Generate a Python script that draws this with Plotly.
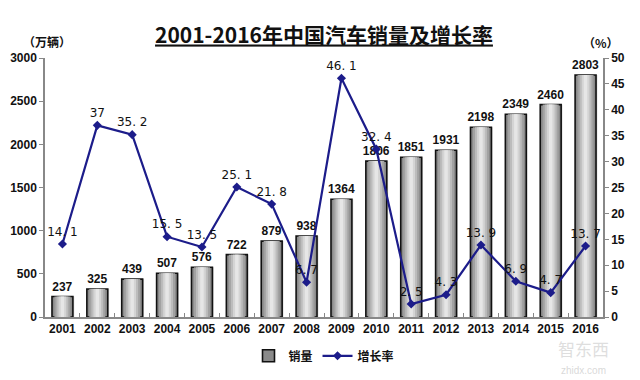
import plotly.graph_objects as go

years = ["2001", "2002", "2003", "2004", "2005", "2006", "2007", "2008",
         "2009", "2010", "2011", "2012", "2013", "2014", "2015", "2016"]
sales = [237, 325, 439, 507, 576, 722, 879, 938, 1364, 1806, 1851, 1931, 2198, 2349, 2460, 2803]
growth = [14.1, 37, 35.2, 15.5, 13.5, 25.1, 21.8, 6.7, 46.1, 32.4, 2.5, 4.3, 13.9, 6.9, 4.7, 13.7]
growth_labels = ["14. 1", "37", "35. 2", "15. 5", "13. 5", "25. 1", "21. 8", "6. 7",
                 "46. 1", "32. 4", "2. 5", "4. 3", "13. 9", "6. 9", "4. 7", "13. 7"]
left_ticks = [0, 500, 1000, 1500, 2000, 2500, 3000]
right_ticks = [0, 5, 10, 15, 20, 25, 30, 35, 40, 45, 50]

NUM_FONT = "Liberation Sans, Arial, sans-serif"
CJK_FONT = "Noto Sans CJK SC, sans-serif"

fig = go.Figure()

# shadow
fig.add_trace(go.Bar(x=years, y=sales, width=0.6, offset=-0.26,
                     marker=dict(color="rgba(0,0,0,0.15)", line=dict(width=0)),
                     hoverinfo="skip", showlegend=False))
# main bar (outline + dark edge)
fig.add_trace(go.Bar(x=years, y=sales, name="销量", width=0.6,
                     marker=dict(color="#8a8a8a", line=dict(color="#111", width=1.6)),
                     text=[str(v) for v in sales], textposition="outside",
                     constraintext="none",
                     textfont=dict(family=NUM_FONT, size=12, color="#111", weight="bold"),
                     cliponaxis=False))
# inner gradient layers
for w, c in [(0.46, "#a2a2a2"), (0.34, "#bcbcbc"), (0.22, "#d4d4d4"), (0.1, "#e6e6e6")]:
    fig.add_trace(go.Bar(x=years, y=sales, width=w,
                         marker=dict(color=c, line=dict(width=0)),
                         hoverinfo="skip", showlegend=False))

fig.add_trace(go.Scatter(x=years, y=growth, name="增长率", yaxis="y2",
                         mode="lines+markers+text",
                         line=dict(color="#1c1c8a", width=2.2),
                         marker=dict(symbol="diamond", size=7, color="#1c1c8a"),
                         text=growth_labels, textposition="top center",
                         textfont=dict(family="DejaVu Sans, sans-serif", size=12, color="#111"),
                         cliponaxis=False))

fig.update_layout(
    width=632, height=372,
    margin=dict(l=37, r=37, t=50, b=63, autoexpand=False),
    paper_bgcolor="white", plot_bgcolor="white",
    barmode="overlay",
    showlegend=True,
    legend=dict(orientation="h", x=0.5, xanchor="center", yref="container", y=0.065,
                yanchor="middle",
                font=dict(family=CJK_FONT, size=12, color="#111", weight="bold"),
                traceorder="normal"),
    xaxis=dict(type="category", range=[-0.5, 15.5], showline=True, linecolor="#888",
               linewidth=1.5, ticks="inside", ticklen=4, tickcolor="#888",
               tickson="boundaries", showgrid=False, tickangle=0, automargin=False,
               tickfont=dict(family=NUM_FONT, size=12, color="#111", weight="bold")),
    yaxis=dict(range=[0, 3000], tickvals=left_ticks, showline=True, linecolor="#888",
               linewidth=1.5, ticks="outside", ticklen=4, tickcolor="#888", showgrid=False,
               zeroline=False, automargin=False,
               tickfont=dict(family=NUM_FONT, size=12, color="#111", weight="bold")),
    yaxis2=dict(range=[0, 50], tickvals=right_ticks, overlaying="y", side="right",
                showline=True, linecolor="#888", linewidth=1.5, ticks="outside", ticklen=4,
                tickcolor="#888", showgrid=False, zeroline=False, automargin=False,
                tickfont=dict(family=NUM_FONT, size=12, color="#111", weight="bold")),
    title=dict(text="<u>2001-2016年中国汽车销量及增长率</u>", x=0.5, xanchor="center",
               yref="container", y=0.927, yanchor="middle",
               font=dict(family=CJK_FONT, size=21, color="#111", weight="bold")),
    annotations=[
        dict(text="（万辆）", xref="paper", yref="paper", x=0.004, y=1.062,
             xanchor="center", yanchor="middle", showarrow=False,
             font=dict(family=CJK_FONT, size=12, color="#111", weight="bold")),
        dict(text="（%）", xref="paper", yref="paper", x=0.996, y=1.058,
             xanchor="center", yanchor="middle", showarrow=False,
             font=dict(family=CJK_FONT, size=12, color="#111", weight="bold")),
        dict(text="智东西", xref="paper", yref="paper", x=0.965, y=-0.122,
             xanchor="center", yanchor="middle", showarrow=False,
             font=dict(family=CJK_FONT, size=17, color="rgba(200,200,200,0.6)")),
        dict(text="zhidx.com", xref="paper", yref="paper", x=0.965, y=-0.205,
             xanchor="center", yanchor="middle", showarrow=False,
             font=dict(family=NUM_FONT, size=10, color="rgba(200,200,200,0.7)")),
    ],
)

fig.write_html("out.html")
